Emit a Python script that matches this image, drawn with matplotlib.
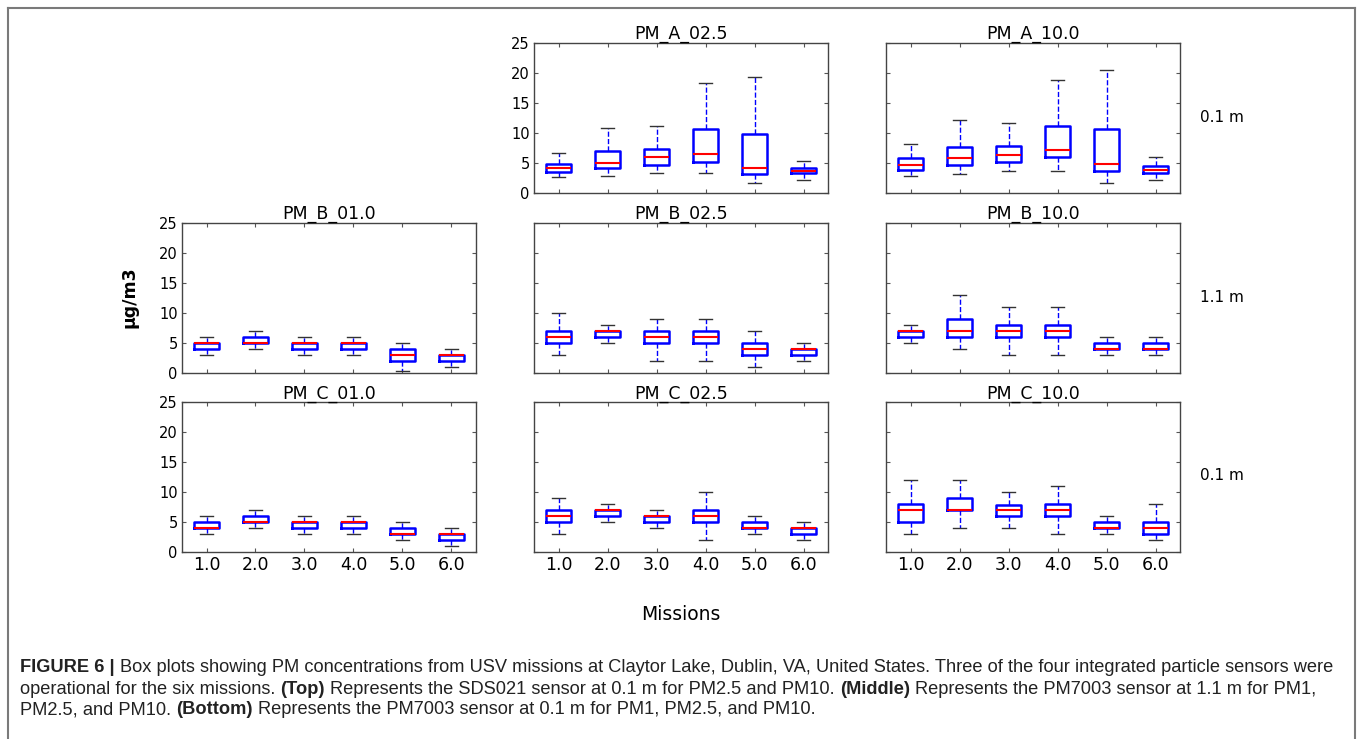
import matplotlib
matplotlib.use("Agg")
import matplotlib.pyplot as plt
from matplotlib.lines import Line2D

# missions on the x axis
missions = [1.0, 2.0, 3.0, 4.0, 5.0, 6.0]
yticks = [0, 5, 10, 15, 20, 25]

# box statistics, one dict of lists per sensor panel
pm_a_025 = {"whislo": [2.6, 2.9, 3.4, 3.3, 1.6, 2.1],
            "q1":     [3.5, 4.2, 4.7, 5.2, 3.1, 3.3],
            "med":    [4.2, 5.0, 6.0, 6.5, 4.2, 3.7],
            "q3":     [4.8, 7.0, 7.4, 10.6, 9.9, 4.2],
            "whishi": [6.6, 10.8, 11.2, 18.4, 19.4, 5.4]}
pm_a_100 = {"whislo": [2.9, 3.2, 3.6, 3.7, 1.7, 2.2],
            "q1":     [3.9, 4.7, 5.2, 6.0, 3.6, 3.4],
            "med":    [4.6, 5.8, 6.3, 7.1, 4.9, 3.8],
            "q3":     [5.8, 7.7, 7.8, 11.1, 10.7, 4.5],
            "whishi": [8.1, 12.2, 11.7, 18.8, 20.5, 6.0]}
pm_b_010 = {"whislo": [3, 4, 3, 3, 0.3, 1],
            "q1":     [4, 5, 4, 4, 2, 2],
            "med":    [5, 5, 5, 5, 3, 3],
            "q3":     [5, 6, 5, 5, 4, 3],
            "whishi": [6, 7, 6, 6, 5, 4]}
pm_b_025 = {"whislo": [3, 5, 2, 2, 1, 2],
            "q1":     [5, 6, 5, 5, 3, 3],
            "med":    [6, 7, 6, 6, 4, 4],
            "q3":     [7, 7, 7, 7, 5, 4],
            "whishi": [10, 8, 9, 9, 7, 5]}
pm_b_100 = {"whislo": [5, 4, 3, 3, 3, 3],
            "q1":     [6, 6, 6, 6, 4, 4],
            "med":    [7, 7, 7, 7, 4, 4],
            "q3":     [7, 9, 8, 8, 5, 5],
            "whishi": [8, 13, 11, 11, 6, 6]}
pm_c_010 = {"whislo": [3, 4, 3, 3, 2, 1],
            "q1":     [4, 5, 4, 4, 3, 2],
            "med":    [4, 5, 5, 5, 3, 3],
            "q3":     [5, 6, 5, 5, 4, 3],
            "whishi": [6, 7, 6, 6, 5, 4]}
pm_c_025 = {"whislo": [3, 5, 4, 2, 3, 2],
            "q1":     [5, 6, 5, 5, 4, 3],
            "med":    [6, 7, 6, 6, 4, 4],
            "q3":     [7, 7, 6, 7, 5, 4],
            "whishi": [9, 8, 7, 10, 6, 5]}
pm_c_100 = {"whislo": [3, 4, 4, 3, 3, 2],
            "q1":     [5, 7, 6, 6, 4, 3],
            "med":    [7, 7, 7, 7, 4, 4],
            "q3":     [8, 9, 7.8, 8, 5, 5],
            "whishi": [12, 12, 10, 11, 6, 8]}

# (title, stats, row, col)
panels = [
    ("PM_A_02.5", pm_a_025, 0, 1),
    ("PM_A_10.0", pm_a_100, 0, 2),
    ("PM_B_01.0", pm_b_010, 1, 0),
    ("PM_B_02.5", pm_b_025, 1, 1),
    ("PM_B_10.0", pm_b_100, 1, 2),
    ("PM_C_01.0", pm_c_010, 2, 0),
    ("PM_C_02.5", pm_c_025, 2, 1),
    ("PM_C_10.0", pm_c_100, 2, 2),
]
row_labels = ["0.1 m", "1.1 m", "0.1 m"]

W, H = 1360, 739
fig = plt.figure(figsize=(W / 100, H / 100), dpi=100)
fig.patch.set_facecolor("white")

col_left = [182, 534, 886]
row_top = [43, 223, 402]
ax_w, ax_h = 294, 150


def to_stats(d):
    out = []
    for i in range(len(missions)):
        out.append({k: d[k][i] for k in ("whislo", "q1", "med", "q3", "whishi")})
    return out


for title, data, r, c in panels:
    ax = fig.add_axes([col_left[c] / W, 1 - (row_top[r] + ax_h) / H, ax_w / W, ax_h / H])
    ax.bxp(to_stats(data), positions=missions, widths=0.5, showfliers=False,
           boxprops=dict(color="#0000ff", linewidth=1.8),
           medianprops=dict(color="#ff0000", linewidth=1.5),
           whiskerprops=dict(color="#0000ff", linestyle="--", linewidth=1),
           capprops=dict(color="#333333", linewidth=1))
    ax.set_xlim(0.5, 6.5)
    ax.set_ylim(0, 25)
    ax.set_yticks(yticks)
    ax.set_xticks(missions)
    ax.set_xticklabels(["%.1f" % m for m in missions])
    ax.tick_params(direction="in", top=True, right=True, length=3, color="#555555")
    ax.tick_params(axis="y", labelsize=10.5, pad=3)
    ax.tick_params(axis="x", labelsize=12.5, pad=3)
    ax.tick_params(labelleft=(c == 0 or r == 0 and c == 1), labelbottom=(r == 2))
    for sp in ax.spines.values():
        sp.set_color("#444444")
        sp.set_linewidth(1)
    ax.set_title(title, fontsize=12.5, pad=2)

for i, lab in enumerate(row_labels):
    fig.text(1200 / W, 1 - (row_top[i] + 74) / H, lab, fontsize=11, ha="left", va="center")

fig.text(130 / W, 1 - 297 / H, "µg/m3", rotation=90, fontsize=12.5, fontweight="bold",
         ha="center", va="center")
fig.text(681 / W, 1 - 615 / H, "Missions", fontsize=13.5, ha="center", va="center")

# outer frame
frame_kw = dict(color="#7a7a7a", linewidth=1.5, transform=fig.transFigure)
fig.add_artist(Line2D([8 / W, 1355 / W], [1 - 7.5 / H, 1 - 7.5 / H], **frame_kw))
fig.add_artist(Line2D([8 / W, 8 / W], [1 - 7.5 / H, -0.01], **frame_kw))
fig.add_artist(Line2D([1355 / W, 1355 / W], [1 - 7.5 / H, -0.01], **frame_kw))

# caption, laid out piece by piece so bold parts can sit inline
caption = [
    [("FIGURE 6 |", True),
     ("Box plots showing PM concentrations from USV missions at Claytor Lake, Dublin, VA, "
      "United States. Three of the four integrated particle sensors were", False)],
    [("operational for the six missions.", False), ("(Top)", True),
     ("Represents the SDS021 sensor at 0.1 m for PM2.5 and PM10.", False), ("(Middle)", True),
     ("Represents the PM7003 sensor at 1.1 m for PM1,", False)],
    [("PM2.5, and PM10.", False), ("(Bottom)", True),
     ("Represents the PM7003 sensor at 0.1 m for PM1, PM2.5, and PM10.", False)],
]
cap_y = [668, 689, 710]
cap_font = "Liberation Sans"
renderer = fig.canvas.get_renderer()


def text_width(s, size, bold):
    t = fig.text(0, 0, s, fontsize=size, family=cap_font,
                 fontweight="bold" if bold else "normal")
    w = t.get_window_extent(renderer).width
    t.remove()
    return w


def line_width(segs, size):
    sp = text_width("a a", size, False) - text_width("aa", size, False)
    return sum(text_width(s, size, b) for s, b in segs) + sp * (len(segs) - 1)


cap_size = 10 * 1322 / line_width(caption[0], 10)
space = text_width("a a", cap_size, False) - text_width("aa", cap_size, False)
for segs, yy in zip(caption, cap_y):
    x = 20
    for s, b in segs:
        t = fig.text(x / W, 1 - yy / H, s, fontsize=cap_size, family=cap_font,
                     fontweight="bold" if b else "normal", color="#222222",
                     ha="left", va="center")
        x += t.get_window_extent(renderer).width + space

fig.savefig("out.png", dpi=100, facecolor="white")
